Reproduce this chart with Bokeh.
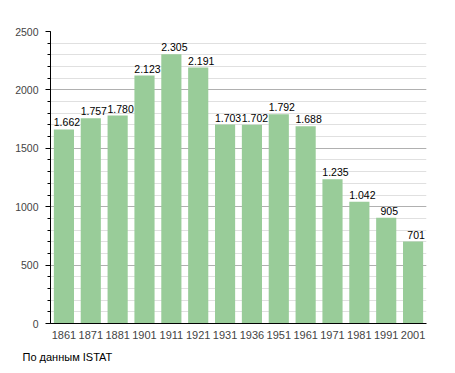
from bokeh.plotting import figure
from bokeh.models import ColumnDataSource, FixedTicker, Range1d, Title, LabelSet
from bokeh.core.properties import value
from bokeh.embed import file_html
from bokeh.resources import INLINE

years = ["1861", "1871", "1881", "1901", "1911", "1921", "1931", "1936",
         "1951", "1961", "1971", "1981", "1991", "2001"]
population = [1662, 1757, 1780, 2123, 2305, 2191, 1703, 1702,
              1792, 1688, 1235, 1042, 905, 701]
y_ticks = [0, 500, 1000, 1500, 2000, 2500]
caption = "По данным  ISTAT"

FONT = "Liberation Sans"

src = ColumnDataSource(dict(
    x=list(range(len(years))),
    y=population,
    lbl=[f"{v:,}".replace(",", ".") for v in population],
))

p = figure(width=452, height=373, output_backend="svg", toolbar_location=None,
           x_range=Range1d(-0.5, len(years) - 0.5), y_range=Range1d(0, 2500),
           min_border_left=50, min_border_right=26, min_border_top=31,
           min_border_bottom=40)
p.outline_line_color = None

p.vbar(x="x", top="y", width=0.75, source=src, fill_color="#99cc99",
       line_color=None)

labels = LabelSet(x="x", y="y", text="lbl", source=src, text_align="center",
                  text_baseline="bottom", y_offset=3, x_offset=3,
                  text_font=value(FONT),
                  text_font_size=value("10.5px"), text_color=value("#000000"))
p.add_layout(labels)

# x axis
p.xaxis.ticker = FixedTicker(ticks=list(range(len(years))))
p.xaxis.major_label_overrides = {i: y for i, y in enumerate(years)}
p.xaxis.major_tick_line_color = None
p.xaxis.minor_tick_line_color = None
p.xaxis.axis_line_color = "#000000"
p.xaxis.major_label_text_font = FONT
p.xaxis.major_label_text_font_size = "11px"
p.xaxis.major_label_standoff = 1
p.xgrid.grid_line_color = None

# y axis
p.yaxis.ticker = FixedTicker(ticks=y_ticks,
                             minor_ticks=list(range(0, 2501, 100)))
p.yaxis.axis_line_color = "#000000"
p.yaxis.major_tick_line_color = "#000000"
p.yaxis.major_tick_out = 5
p.yaxis.major_tick_in = 0
p.yaxis.minor_tick_line_color = "#000000"
p.yaxis.minor_tick_out = 3
p.yaxis.minor_tick_in = 0
p.yaxis.major_label_text_font = FONT
p.yaxis.major_label_text_font_size = "10.5px"
p.yaxis.major_label_standoff = 7
p.ygrid.grid_line_color = "#b0b0b0"
p.ygrid.minor_grid_line_color = "#e0e0e0"

cap = Title(text=caption, align="left", offset=-28, standoff=18,
            text_font=FONT, text_font_size="11px", text_font_style="normal",
            text_color="#000000", vertical_align="top")
p.add_layout(cap, "below")

open("out.html", "w").write(file_html(p, INLINE))
